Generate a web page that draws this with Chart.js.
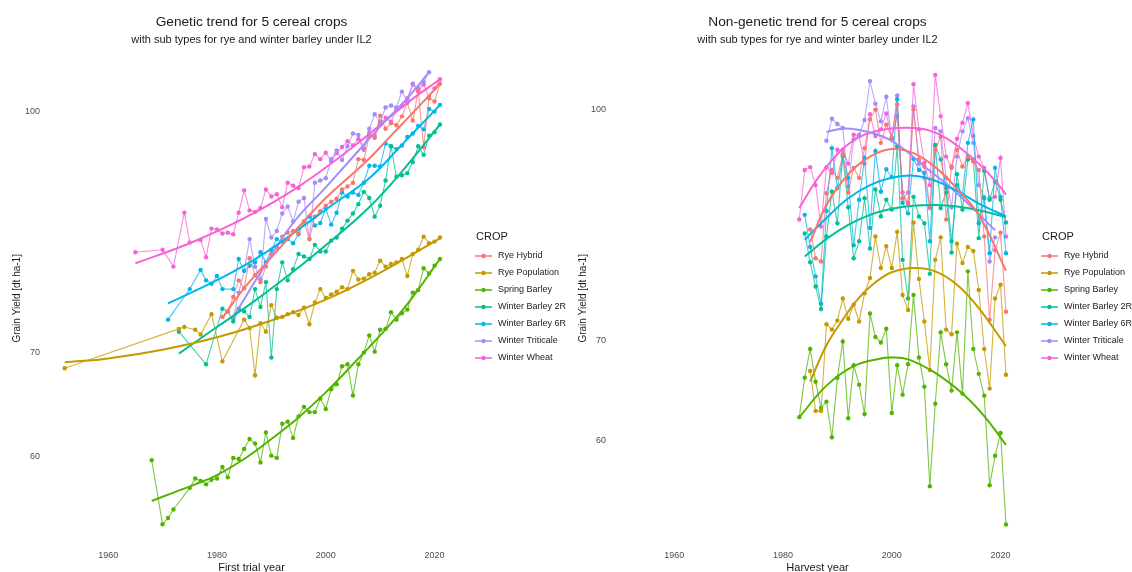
<!DOCTYPE html>
<html>
<head>
<meta charset="utf-8">
<script src="https://cdn.jsdelivr.net/npm/chart.js@4.4.1/dist/chart.umd.min.js"></script>
<style>
  body { margin: 0; background: #fff; }
  #wrap { display: flex; width: 1132px; height: 572px; }
  .panel { width: 566px; height: 572px; }
</style>
</head>
<body>
<div id="wrap">
  <div class="panel"><canvas id="geneticChart" width="566" height="572"></canvas></div>
  <div class="panel"><canvas id="nonGeneticChart" width="566" height="572"></canvas></div>
</div>
<script>
// Crops and colours (ggplot hue palette)
const crops = ['Rye Hybrid', 'Rye Population', 'Spring Barley', 'Winter Barley 2R', 'Winter Barley 6R', 'Winter Triticale', 'Winter Wheat'];
const cropColors = ['#F8766D', '#C49A00', '#53B400', '#00C094', '#00B6EB', '#A58AFF', '#FB61D7'];
const yTicks = [60, 70, 100];
const xTicks = [1960, 1980, 2000, 2020];

// ---- Genetic trend (by first trial year) ----
const gRyeHybridYears = [1981,1982,1983,1984,1985,1986,1987,1988,1989,1990,1991,1992,1993,1994,1995,1996,1997,1998,1999,2000,2001,2002,2003,2004,2005,2006,2007,2008,2009,2010,2011,2012,2013,2014,2015,2016,2017,2018,2019,2020,2021];
const gRyeHybrid = [73.8,74.4,76.0,77.9,77.0,80.5,78.5,77.7,79.5,81.0, 81.8,83.1,83.6,83.8,83.5,85.0,82.8,85.6,86.3,87.0, 87.5,87.9,89.1,89.5,90.0,93.2,93.1,96.5,96.2,99.4, 97.5,98.3,98.0,99.3,101.3,98.7,103.2,94.9,102.0,101.5,104.2];

const gRyePopYears = [1952,1973,1974,1976,1977,1979,1981,1985,1986,1987,1988,1989,1990,1991,1992,1993,1994,1995,1996,1997,1998,1999,2000,2001,2002,2003,2004,2005,2006,2007,2008,2009,2010,2011,2012,2013,2014,2015,2016,2017,2018,2019,2020,2021];
const gRyePop = [68.4,72.5,72.7,72.4,71.9,74.1,69.1, 73.5,72.6,67.7,73.1,72.2,75.1,73.7,73.8,74.1,74.3, 74.0,74.8,73.0,75.4,76.9,75.9,76.3,76.6,77.1,76.9, 79.0,78.0,78.1,78.6,78.8,80.2,79.5,79.8,80.0,80.4, 78.4,81.0,81.5,83.1,82.3,82.5,83.0];

const gSpringBarleyYears = [1968,1970,1971,1972,1975,1976,1977,1978,1979,1980,1981,1982,1983,1984,1985,1986,1987,1988,1989,1990,1991,1992,1993,1994,1995,1996,1997,1998,1999,2000,2001,2002,2003,2004,2005,2006,2007,2008,2009,2010,2011,2012,2013,2014,2015,2016,2017,2018,2019,2020,2021];
const gSpringBarley = [59.7,54.3,54.8,55.5,57.3,58.1,57.9,57.6,58.0,58.1, 59.1,58.2,59.9,59.8,60.7,61.6,61.2,59.5,62.2,60.1, 59.9,63.0,63.2,61.7,63.7,64.6,64.1,64.1,65.4,64.4, 66.3,66.8,68.6,68.8,65.7,68.8,70.0,71.8,70.1,72.4, 72.5,74.3,73.5,74.2,74.6,76.5,76.8,79.3,78.7,79.6,80.4];

const gBarley2RYears = [1973,1978,1981,1982,1983,1984,1985,1986,1987,1988,1989,1990,1991,1992,1993,1994,1995,1996,1997,1998,1999,2000,2001,2002,2003,2004,2005,2006,2007,2008,2009,2010,2011,2012,2013,2014,2015,2016,2017,2018,2019,2020,2021];
const gBarley2R = [72.2,68.8, 74.7,74.4,73.3,74.7,74.4,73.8,76.9,74.9,77.7,69.5, 76.9,80.0,77.9,79.2,81.0,80.7,80.4,82.1,81.3,81.3, 82.6,83.0,84.1,85.1,86.0,87.2,88.8,88.0,85.6,87.0, 90.3,95.0,90.8,91.0,91.3,92.8,95.0,93.8,96.5,97.0,98.1];

const gBarley6RYears = [1971,1975,1977,1978,1979,1980,1981,1983,1984,1985,1986,1987,1988,1989,1990,1991,1992,1993,1994,1995,1996,1997,1998,1999,2000,2001,2002,2003,2004,2005,2006,2007,2008,2009,2010,2011,2012,2013,2014,2015,2016,2017,2018,2019,2020,2021];
const gBarley6R = [73.5,76.9,79.1,77.9,77.5,78.4,76.9, 76.9,80.4,79.0,79.6,80.0,81.2,80.0,81.5,82.8,82.5, 82.8,82.3,83.4,85.0,85.6,84.5,84.8,86.6,84.6,86.1, 88.7,88.2,88.7,88.4,90.0,92.3,92.3,92.2,95.4,95.0, 94.6,95.1,96.3,96.8,97.9,97.4,100.4,100.0,101.0];

const gTriticaleYears = [1983,1984,1985,1986,1987,1988,1989,1990,1991,1992,1993,1994,1995,1996,1997,1998,1999,2000,2001,2002,2003,2004,2005,2006,2007,2008,2009,2010,2011,2012,2013,2014,2015,2016,2017,2018,2019];
const gTriticale = [73.6,76.5,79.0,82.8,79.5,78.0,85.3,83.0,83.8,86.0, 86.9,85.0,87.5,88.0,82.8,90.0,90.3,90.6,93.2,94.4, 93.1,95.0,96.8,96.6,94.7,97.5,99.6,98.5,100.6,100.9, 100.6,103.0,101.5,104.2,103.5,104.5,106.0];

const gWheatYears = [1965,1970,1972,1974,1975,1977,1978,1979,1980,1981,1982,1983,1984,1985,1986,1987,1988,1989,1990,1991,1992,1993,1994,1995,1996,1997,1998,1999,2000,2001,2002,2003,2004,2005,2006,2007,2008,2009,2010,2011,2012,2013,2014,2015,2016,2017,2018,2019,2020,2021];
const gWheat = [81.2,81.5,79.5,86.1,82.4, 82.7,80.6,84.1,84.0,83.5,83.6,83.4,86.1,89.0,86.4, 86.2,86.7,89.1,88.2,88.5,86.8,90.0,89.6,89.3,92.1, 92.2,93.9,93.2,94.1,92.9,94.0,94.9,95.7,95.1,96.0, 94.5,96.9,96.5,98.1,99.1,98.5,100.3,100.8,102.0,104.1, 103.0,104.1,102.2,103.5,104.9];

// smooth trend lines as [year, yield]
const gRyeHybridTrend = [[1981,73.7],[1985,77.0],[1990,80.6],[1995,84.3],[2000,88.0],[2004,90.6],[2008,93.3],[2012,96.5],[2016,99.8],[2021,104.2]];
const gRyePopTrend = [[1952,69.0],[1960,69.4],[1970,70.3],[1980,71.6],[1990,73.4],[2000,75.7],[2010,78.8],[2021,82.9]];
const gSpringBarleyTrend = [[1968,56.2],[1972,56.9],[1976,57.6],[1980,58.4],[1985,59.8],[1990,61.6],[1995,63.6],[2000,66.0],[2005,68.8],[2010,71.8],[2015,75.2],[2021,80.4]];
const gBarley2RTrend = [[1973,69.9],[1980,72.7],[1987,75.6],[1994,78.9],[2001,82.6],[2008,86.8],[2014,91.5],[2021,98.1]];
const gBarley6RTrend = [[1971,75.3],[1977,77.0],[1983,78.9],[1989,81.2],[1995,84.0],[2001,87.0],[2008,90.6],[2014,95.2],[2021,101.0]];
const gTriticaleTrend = [[1983,73.8],[1989,79.8],[1994,84.8],[2000,89.4],[2005,93.5],[2010,97.8],[2015,102.0],[2019,106.0]];
const gWheatTrend = [[1965,79.9],[1975,82.3],[1985,85.4],[1995,89.5],[2005,94.9],[2015,101.3],[2021,104.9]];

// ---- Non-genetic trend (by harvest year) ----
const hYears = [1983,1984,1985,1986,1987,1988,1989,1990,1991,1992,1993,1994,1995,1996,1997,1998,1999,2000,2001,2002,2003,2004,2005,2006,2007,2008,2009,2010,2011,2012,2013,2014,2015,2016,2017,2018,2019,2020,2021];
const hRyeHybrid = [null,null,83.1,79.5,79.1,87.9,91.1,90.0,93.3,88.0, 91.4,90.0,94.2,98.5,100.0,95.0,97.7,95.7,100.8,87.2, 86.6,100.0,92.6,91.6,86.1,94.0,95.9,84.4,91.6,94.0, 91.6,93.0,92.3,91.1,82.2,72.3,80.5,82.7,73.2];
const hRyePop = [null,null,66.8,62.8,62.8,71.8,71.2,72.2,74.7,72.4, 74.0,72.1,75.3,77.1,82.2,78.3,81.0,78.3,82.8,75.1, 73.4,84.0,77.0,72.1,66.9,79.3,82.1,71.2,70.7,81.3, 78.9,80.9,80.4,75.7,69.1,65.0,74.7,76.3,66.4];
const hSpringBarley = [62.2,66.1,69.1,65.7,63.1,63.7,60.3,66.1,69.9,62.1, 67.4,65.4,62.5,73.0,70.4,69.8,71.3,62.6,67.4,64.4, 67.5,75.1,68.2,65.2,55.9,63.5,70.9,67.5,64.8,70.9, 64.5,77.9,69.1,66.5,64.3,56.0,58.6,60.7,52.7];
const hBarley2R = [null,82.6,79.0,76.1,73.5,82.2,88.1,83.9,93.3,86.0, 79.5,81.6,87.2,80.7,88.4,84.8,87.0,85.7,94.5,79.3, 74.7,87.4,84.8,83.9,77.6,94.7,85.9,88.0,80.2,90.5, 85.7,92.6,92.6,82.0,91.0,87.0,89.5,87.0,84.0];
const hBarley6R = [null,85.0,80.9,77.3,74.1,85.5,94.2,88.6,93.0,90.0, 81.1,87.0,92.8,83.3,93.8,88.1,91.2,90.1,101.6,86.6, 85.2,92.7,91.1,90.7,81.6,94.6,92.6,88.6,81.6,89.0, 87.7,95.0,98.5,83.9,87.2,80.1,91.4,87.4,80.1];
const hTriticale = [null,null,null,null,null,95.3,98.6,97.8,97.2,88.8, 95.5,96.2,98.4,104.5,100.9,98.2,102.0,95.5,102.2,87.2, 88.0,100.5,92.0,90.0,85.9,97.2,96.7,90.0,86.0,93.0, 96.7,98.7,95.0,89.0,87.4,79.1,82.1,null,null];
const hWheat = [84.4,91.1,91.5,89.0,83.5,91.5,90.7,94.0,94.0,92.0, 96.2,96.0,92.0,99.3,96.0,97.0,99.4,95.7,99.0,88.0, 86.5,104.0,97.0,92.1,89.0,105.5,99.0,93.0,91.4,95.6, 98.0,101.0,96.0,93.0,91.4,87.2,87.4,92.8,82.2];

const hRyeHybridTrend = [[1985,81.5],[1988,86.3],[1992,90.5],[1996,93.0],[2000,94.1],[2004,93.5],[2008,91.5],[2012,88.5],[2016,85.0],[2021,78.0]];
const hRyePopTrend = [[1985,65.7],[1988,69.5],[1991,72.3],[1994,74.8],[1997,76.6],[2000,77.8],[2004,78.3],[2008,77.9],[2012,76.3],[2016,73.6],[2021,69.4]];
const hSpringBarleyTrend = [[1983,62.2],[1988,65.3],[1993,67.3],[1998,68.1],[2000,68.2],[2003,68.0],[2008,66.6],[2013,64.5],[2017,62.3],[2021,59.6]];
const hBarley2RTrend = [[1984,79.7],[1988,81.9],[1992,83.7],[1996,85.0],[2000,85.8],[2004,86.2],[2008,86.3],[2012,86.1],[2016,85.6],[2021,84.7]];
const hBarley6RTrend = [[1984,81.8],[1988,84.6],[1992,87.2],[1996,89.0],[2000,90.0],[2004,90.3],[2008,89.6],[2012,88.2],[2016,86.5],[2021,84.8]];
const hTriticaleTrend = [[1988,96.6],[1991,97.1],[1994,96.9],[1997,96.3],[2000,95.3],[2003,93.6],[2006,91.6],[2009,89.8],[2012,87.9],[2015,85.8],[2019,83.0]];
const hWheatTrend = [[1983,85.9],[1986,89.5],[1989,92.5],[1992,94.8],[1995,96.2],[1998,96.9],[2001,97.2],[2004,97.2],[2007,96.8],[2010,95.7],[2013,94.0],[2016,92.0],[2019,89.6],[2021,87.7]];

const FONT = '"Liberation Sans", Arial, sans-serif';

function withAlpha(hex, a) {
    const n = parseInt(hex.slice(1), 16);
    return `rgba(${(n >> 16) & 255}, ${(n >> 8) & 255}, ${n & 255}, ${a})`;
}

function rawSet(i, years, values) {
    return {
        label: crops[i],
        data: years.map((x, k) => ({ x: x, y: values[k] })),
        borderColor: withAlpha(cropColors[i], 0.75),
        backgroundColor: cropColors[i],
        pointBackgroundColor: cropColors[i],
        borderWidth: 1.1,
        pointRadius: 2.2,
        pointBorderWidth: 0,
        pointHoverRadius: 0,
        spanGaps: true,
        tension: 0,
        order: 1
    };
}

function trendSet(i, pairs) {
    return {
        label: crops[i] + ' trend',
        data: pairs.map(p => ({ x: p[0], y: p[1] })),
        borderColor: cropColors[i],
        borderWidth: 2,
        pointRadius: 0,
        pointHoverRadius: 0,
        tension: 0.4,
        order: 0
    };
}

// legend drawn to the right of the plot, like ggplot's guide
const cropLegend = {
    id: 'cropLegend',
    afterDraw(chart) {
        const ctx = chart.ctx;
        const x0 = 475;
        ctx.save();
        ctx.textBaseline = 'middle';
        ctx.fillStyle = '#1a1a1a';
        ctx.font = '11px ' + FONT;
        ctx.fillText('CROP', x0 + 1, 237);
        ctx.font = '9px ' + FONT;
        crops.forEach((name, i) => {
            const y = 256 + i * 17;
            ctx.strokeStyle = withAlpha(cropColors[i], 0.75);
            ctx.lineWidth = 2;
            ctx.beginPath();
            ctx.moveTo(x0, y);
            ctx.lineTo(x0 + 17, y);
            ctx.stroke();
            ctx.fillStyle = cropColors[i];
            ctx.beginPath();
            ctx.arc(x0 + 8.5, y, 2.2, 0, Math.PI * 2);
            ctx.fill();
            ctx.fillStyle = '#1a1a1a';
            ctx.fillText(name, x0 + 23, y);
        });
        ctx.restore();
    }
};

function makeChart(canvasId, title, subtitle, xTitle, yMin, yMax, datasets) {
    return new Chart(document.getElementById(canvasId), {
        type: 'line',
        data: { datasets: datasets },
        plugins: [cropLegend],
        options: {
            responsive: false,
            animation: false,
            devicePixelRatio: 1,
            layout: { padding: { left: 0, right: 107, top: 0, bottom: 0 } },
            plugins: {
                legend: { display: false },
                tooltip: { enabled: false },
                title: {
                    display: true, text: title, fullSize: false, color: '#1a1a1a',
                    font: { family: FONT, size: 13.7, weight: 'normal' },
                    padding: { top: 14, bottom: 2 }
                },
                subtitle: {
                    display: true, text: subtitle, fullSize: false, color: '#1a1a1a',
                    font: { family: FONT, size: 11 },
                    padding: { top: 1, bottom: 3 }
                }
            },
            scales: {
                x: {
                    type: 'linear',
                    min: 1948.2,
                    max: 2024.5,
                    afterBuildTicks: s => { s.ticks = xTicks.map(v => ({ value: v })); },
                    afterFit: s => { s.height = 25; },
                    grid: { display: false, drawTicks: false },
                    border: { display: false },
                    ticks: { font: { family: FONT, size: 9 }, color: '#4d4d4d', padding: 3, maxRotation: 0, autoSkip: false, callback: v => String(v) },
                    title: { display: true, text: xTitle, color: '#1a1a1a', font: { family: FONT, size: 11, lineHeight: 0.75 }, padding: { top: 0, bottom: 0 } }
                },
                y: {
                    type: 'logarithmic',
                    min: yMin,
                    max: yMax,
                    afterBuildTicks: s => { s.ticks = yTicks.map(v => ({ value: v })); },
                    afterFit: s => { s.width = 44; },
                    grid: { display: false, drawTicks: false },
                    border: { display: false },
                    ticks: { font: { family: FONT, size: 9 }, color: '#4d4d4d', padding: 4, autoSkip: false, callback: v => String(v) },
                    title: { display: true, text: 'Grain Yield [dt ha-1]', color: '#1a1a1a', font: { family: FONT, size: 10 }, padding: { top: 11, bottom: 0 } }
                }
            }
        }
    });
}

const geneticSets = [
    rawSet(0, gRyeHybridYears, gRyeHybrid),
    rawSet(1, gRyePopYears, gRyePop),
    rawSet(2, gSpringBarleyYears, gSpringBarley),
    rawSet(3, gBarley2RYears, gBarley2R),
    rawSet(4, gBarley6RYears, gBarley6R),
    rawSet(5, gTriticaleYears, gTriticale),
    rawSet(6, gWheatYears, gWheat),
    trendSet(0, gRyeHybridTrend),
    trendSet(1, gRyePopTrend),
    trendSet(2, gSpringBarleyTrend),
    trendSet(3, gBarley2RTrend),
    trendSet(4, gBarley6RTrend),
    trendSet(5, gTriticaleTrend),
    trendSet(6, gWheatTrend)
];

const harvestSets = [
    rawSet(0, hYears, hRyeHybrid),
    rawSet(1, hYears, hRyePop),
    rawSet(2, hYears, hSpringBarley),
    rawSet(3, hYears, hBarley2R),
    rawSet(4, hYears, hBarley6R),
    rawSet(5, hYears, hTriticale),
    rawSet(6, hYears, hWheat),
    trendSet(0, hRyeHybridTrend),
    trendSet(1, hRyePopTrend),
    trendSet(2, hSpringBarleyTrend),
    trendSet(3, hBarley2RTrend),
    trendSet(4, hBarley6RTrend),
    trendSet(5, hTriticaleTrend),
    trendSet(6, hWheatTrend)
];

makeChart('geneticChart', 'Genetic trend for 5 cereal crops', 'with sub types for rye and winter barley under IL2',
    'First trial year', 52.5, 109.6, geneticSets);
makeChart('nonGeneticChart', 'Non-genetic trend for 5 cereal crops', 'with sub types for rye and winter barley under IL2',
    'Harvest year', 50.9, 109.7, harvestSets);
</script>
</body>
</html>
